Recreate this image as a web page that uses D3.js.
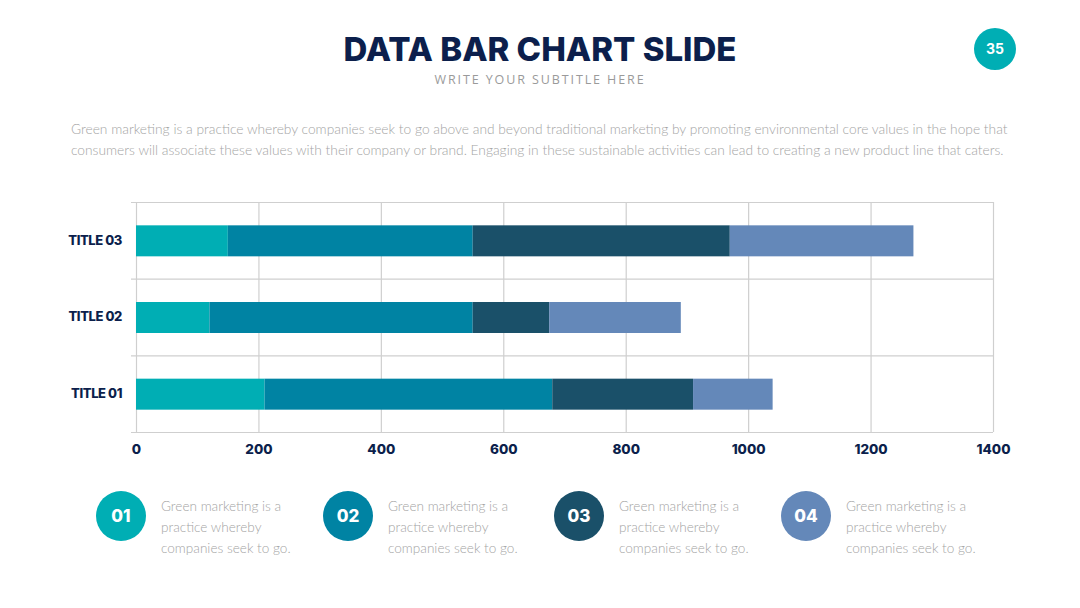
<!DOCTYPE html>
<html>
<head>
<meta charset="utf-8">
<script src="https://cdn.jsdelivr.net/npm/d3@7"></script>
<style>
  body { margin: 0; background: #fff; }
  svg { display: block; }
</style>
</head>
<body>
<div id="graph"></div>
<script>
// chart values
var categories = ["TITLE 03", "TITLE 02", "TITLE 01"];
var seriesKeys = ["s1", "s2", "s3", "s4"];
var s1 = [150, 120, 210];
var s2 = [400, 430, 470];
var s3 = [420, 125, 230];
var s4 = [300, 215, 130];
var xTicks = [0, 200, 400, 600, 800, 1000, 1200, 1400];
var legendLabels = ["01", "02", "03", "04"];
var colors = ["#00aeb4", "#0083a3", "#1a5069", "#6488b9"];

var paragraph = [
  "Green marketing is a practice whereby companies seek to go above and beyond traditional marketing by promoting environmental core values in the hope that",
  "consumers will associate these values with their company or brand. Engaging in these sustainable activities can lead to creating a new product line that caters."
];
var legendText = ["Green marketing is a", "practice whereby", "companies seek to go."];

var rows = categories.map(function (c, i) {
  return { cat: c, s1: s1[i], s2: s2[i], s3: s3[i], s4: s4[i] };
});

var W = 1080, H = 608;
var svg = d3.select("#graph").append("svg")
  .attr("width", W).attr("height", H);

var navy = "#0c1f4c";
var grey = "#a4a4a4";

// title block
svg.append("text")
  .attr("x", 540).attr("y", 61)
  .attr("text-anchor", "middle")
  .style("font-family", "Inter, 'Open Sans', sans-serif")
  .style("font-weight", 800)
  .style("font-size", "33px")
  .style("fill", navy)
  .text("DATA BAR CHART SLIDE");

svg.append("text")
  .attr("x", 540).attr("y", 84)
  .attr("text-anchor", "middle")
  .style("font-family", "'Open Sans', sans-serif")
  .style("font-size", "12.5px")
  .style("letter-spacing", "1.9px")
  .style("fill", "#9a9a9a")
  .text("WRITE YOUR SUBTITLE HERE");

// page number
svg.append("circle").attr("cx", 995).attr("cy", 49).attr("r", 21).style("fill", colors[0]);
svg.append("text")
  .attr("x", 995).attr("y", 54)
  .attr("text-anchor", "middle")
  .style("font-family", "Inter, sans-serif")
  .style("font-weight", 700)
  .style("font-size", "14px")
  .style("fill", "#fff")
  .text("35");

// intro paragraph
svg.append("g").selectAll("text")
  .data(paragraph)
  .enter().append("text")
    .attr("x", 71)
    .attr("y", function (d, i) { return 134 + i * 21; })
    .style("font-family", "Lato, sans-serif")
    .style("font-weight", 300)
    .style("font-size", "13.78px")
    .style("fill", grey)
    .text(function (d) { return d; });

// chart
var margin = { top: 202, left: 136 },
    width = 857, height = 230;

var g = svg.append("g")
  .attr("transform", "translate(" + margin.left + "," + margin.top + ")");

var x = d3.scaleLinear().domain([0, 1400]).range([0, width]);
var y = d3.scaleBand().domain(categories).range([0, height]).paddingInner(0).paddingOuter(0);

var gridColor = "#cfcfcf";

// vertical grid
g.append("g").selectAll("line")
  .data(xTicks)
  .enter().append("line")
    .attr("x1", function (d) { return x(d) + 0.5; })
    .attr("x2", function (d) { return x(d) + 0.5; })
    .attr("y1", 0).attr("y2", height)
    .style("stroke", gridColor).style("stroke-width", 1.2);

// horizontal band boundaries
var bounds = categories.map(function (c) { return y(c); }).concat([height]);
g.append("g").selectAll("line")
  .data(bounds)
  .enter().append("line")
    .attr("x1", -5).attr("x2", width)
    .attr("y1", function (d) { return d + 0.5; })
    .attr("y2", function (d) { return d + 0.5; })
    .style("stroke", gridColor).style("stroke-width", 1.2);

// stacked bars
var stack = d3.stack().keys(seriesKeys)(rows);
var barH = 31;

g.append("g").selectAll("g")
  .data(stack)
  .enter().append("g")
    .style("fill", function (d, i) { return colors[i]; })
  .selectAll("rect")
  .data(function (d) { return d; })
  .enter().append("rect")
    .attr("x", function (d) { return x(d[0]); })
    .attr("width", function (d) { return x(d[1]) - x(d[0]); })
    .attr("y", function (d) { return y(d.data.cat) + (y.bandwidth() - barH) / 2 + 0.5; })
    .attr("height", barH);

// x axis labels
var xAxis = g.append("g")
  .attr("transform", "translate(0," + height + ")")
  .call(d3.axisBottom(x).tickValues(xTicks).tickFormat(d3.format("d")).tickSize(0).tickPadding(12));
xAxis.select(".domain").remove();
xAxis.selectAll("text")
  .style("font-family", "Inter, sans-serif")
  .style("font-weight", 800)
  .style("font-size", "13.5px")
  .style("fill", navy);

// y axis labels
var yAxis = g.append("g")
  .call(d3.axisLeft(y).tickSize(0).tickPadding(14));
yAxis.select(".domain").remove();
yAxis.selectAll("text")
  .style("font-family", "Inter, sans-serif")
  .style("font-weight", 800)
  .style("font-size", "13px")
  .style("letter-spacing", "-0.4px")
  .style("fill", navy);

// legend
var legendX = [121, 348, 579, 806];
var leg = svg.append("g").selectAll("g")
  .data(legendLabels)
  .enter().append("g")
    .attr("transform", function (d, i) { return "translate(" + legendX[i] + ",516)"; });

leg.append("circle")
  .attr("r", 25)
  .style("fill", function (d, i) { return colors[i]; });

leg.append("text")
  .attr("y", 6)
  .attr("text-anchor", "middle")
  .style("font-family", "Inter, sans-serif")
  .style("font-weight", 800)
  .style("font-size", "17px")
  .style("fill", "#fff")
  .text(function (d) { return d; });

leg.selectAll("text.desc")
  .data(legendText)
  .enter().append("text")
    .attr("class", "desc")
    .attr("x", 40)
    .attr("y", function (d, i) { return -5 + i * 21; })
    .style("font-family", "Lato, sans-serif")
    .style("font-weight", 300)
    .style("font-size", "13.6px")
    .style("fill", grey)
    .text(function (d) { return d; });
</script>
</body>
</html>
